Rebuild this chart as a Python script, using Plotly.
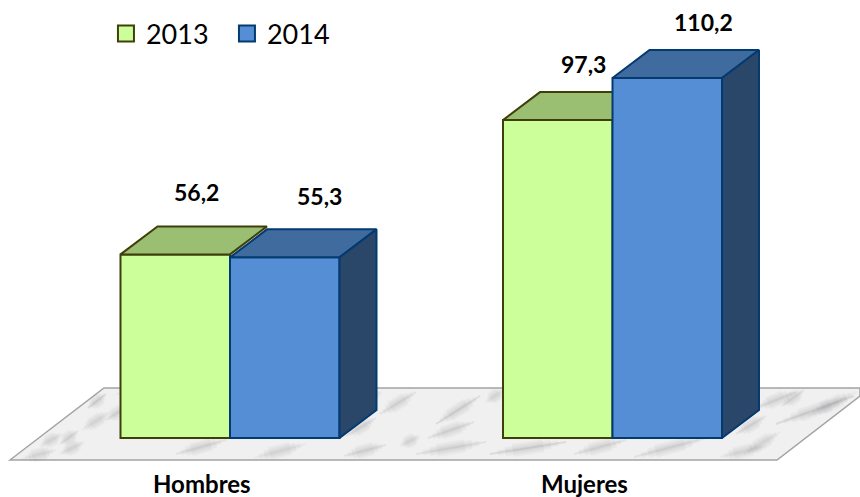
import plotly.graph_objects as go

categories = ["Hombres", "Mujeres"]
years = ["2013", "2014"]
values_2013 = [56.2, 97.3]
values_2014 = [55.3, 110.2]
labels_2013 = ["56,2", "97,3"]
labels_2014 = ["55,3", "110,2"]

W, H = 860, 497
FONT = "Lato"
GREEN, GREEN_TOP, GREEN_LINE = "#ccff99", "#9abf73", "#3f3f0a"
BLUE, BLUE_TOP, BLUE_SIDE, BLUE_LINE = "#558ed5", "#406b9f", "#2a4669", "#033a70"

# layout scale (pixels per axis unit)
PX_X, PX_Y = 382.5, 3.267
X0_PX, Y0_PX = 230.0, 438.0
BAR = 109.5 / PX_X
DX, DY = 37 / PX_X, 28 / PX_Y
xr = [-X0_PX / PX_X, (W - X0_PX) / PX_X]
yr = [-(H - Y0_PX) / PX_Y, Y0_PX / PX_Y]
xs = [0, 1]


def top_face(idx, vals, left):
    xo, yo = [], []
    for i in idx:
        x, v = xs[i] + left, vals[i]
        xo += [x, x + DX, x + BAR + DX, x + BAR, x, None]
        yo += [v, v + DY, v + DY, v, v, None]
    return xo, yo


def side_face(vals, left):
    xo, yo = [], []
    for i, v in enumerate(vals):
        x = xs[i] + left + BAR
        xo += [x, x + DX, x + DX, x, x, None]
        yo += [v, v + DY, DY, 0, v, None]
    return xo, yo


def poly(xy, fill, line, xa, ya):
    return go.Scatter(x=xy[0], y=xy[1], xaxis=xa, yaxis=ya, mode="lines", fill="toself",
                      fillcolor=fill, line=dict(color=line, width=2), hoverinfo="skip",
                      showlegend=False, connectgaps=False)


fig = go.Figure()
# layer 1 : 2013 fronts and the tops that sit behind a taller 2014 bar
fig.add_trace(go.Bar(x=xs, y=values_2013, width=BAR, offset=-BAR, marker=dict(color=GREEN, line=dict(color=GREEN_LINE, width=2)),
                     showlegend=False, hoverinfo="skip"))
behind = [i for i in range(2) if values_2013[i] <= values_2014[i]]
fig.add_trace(poly(top_face(behind, values_2013, -BAR), GREEN_TOP, GREEN_LINE, "x", "y"))
# layer 2 : 2014
fig.add_trace(go.Bar(x=xs, y=values_2014, width=BAR, offset=0, xaxis="x2", yaxis="y2",
                     marker=dict(color=BLUE, line=dict(color=BLUE_LINE, width=2)), showlegend=False, hoverinfo="skip"))
fig.add_trace(poly(top_face(range(2), values_2014, 0), BLUE_TOP, BLUE_LINE, "x2", "y2"))
fig.add_trace(poly(side_face(values_2014, 0), BLUE_SIDE, BLUE_LINE, "x2", "y2"))
# layer 3 : 2013 tops in front of a shorter 2014 bar
front = [i for i in range(2) if values_2013[i] > values_2014[i]]
fig.add_trace(poly(top_face(front, values_2013, -BAR), GREEN_TOP, GREEN_LINE, "x3", "y3"))

# legend entries
for name, col, ln in [(years[0], GREEN, GREEN_LINE), (years[1], BLUE, BLUE_LINE)]:
    fig.add_trace(go.Scatter(x=[None], y=[None], name=name, mode="markers",
                             marker=dict(symbol="square", size=16, color=col, line=dict(color=ln, width=2))))

ax = dict(range=xr, visible=False, fixedrange=True)
ay = dict(range=yr, visible=False, fixedrange=True)


def px(x, y):
    return x / W, 1 - y / H


# marble floor
floor = [(10, 460), (104, 388), (860, 388), (860, 396), (777, 460)]
pts = [px(*p) for p in floor]
path = "M " + " L ".join(f"{a:.5f},{b:.5f}" for a, b in pts) + " Z"
shapes = [dict(type="path", xref="paper", yref="paper", path=path, fillcolor="#f0f0f1",
               line=dict(color="#a3a3a3", width=1.5), layer="below")]
streaks = [
    (88, 408, 106, 394, 3), (60, 444, 78, 431, 2), (106, 420, 128, 406, 2), (176, 454, 226, 440, 2),
    (60, 454, 84, 442, 1), (346, 436, 376, 418, 2), (344, 456, 386, 445, 2), (380, 414, 416, 392, 2),
    (356, 403, 382, 392, 1), (436, 424, 480, 396, 3), (428, 438, 474, 422, 2), (416, 454, 486, 442, 2),
    (486, 402, 504, 390, 1), (490, 454, 566, 442, 3), (574, 454, 626, 440, 2), (634, 457, 706, 438, 2),
    (736, 434, 766, 416, 2), (756, 408, 796, 392, 2), (776, 424, 854, 396, 3), (782, 406, 804, 390, 2),
    (808, 416, 856, 392, 1), (744, 454, 780, 432, 1), (140, 430, 166, 408, 1), (22, 459, 56, 450, 1),
    (254, 458, 306, 444, 1), (116, 394, 156, 389, 1), (720, 457, 766, 446, 1), (40, 446, 62, 434, 1),
    (82, 430, 110, 412, 1), (400, 446, 420, 436, 1),
]
for x1, y1, x2, y2, k in streaks:
    for frac, width, op in [(1.0, 2, 0.05 * k), (0.8, 5, 0.06), (0.6, 9, 0.06), (0.4, 13, 0.05)]:
        mx, my = (x1 + x2) / 2, (y1 + y2) / 2
        a = px(mx + (x1 - mx) * frac, my + (y1 - my) * frac)
        b = px(mx + (x2 - mx) * frac, my + (y2 - my) * frac)
        shapes.append(dict(type="line", xref="paper", yref="paper", x0=a[0], y0=a[1], x1=b[0], y1=b[1],
                           line=dict(color="#6f6f72", width=width), opacity=op, layer="below"))

# text
annotations = []
shifts_2013 = [(21, 62), (26, 56)]
shifts_2014 = [(35, 61), (36, 56)]
for i in range(2):
    for vals, labs, sh, cx in [(values_2013, labels_2013, shifts_2013, -BAR / 2), (values_2014, labels_2014, shifts_2014, BAR / 2)]:
        annotations.append(dict(x=xs[i] + cx, y=vals[i], xref="x", yref="y", text=f"<b>{labs[i]}</b>", showarrow=False,
                                xshift=sh[i][0], yshift=sh[i][1], font=dict(family=FONT, size=23, color="#000000")))
    annotations.append(dict(x=xs[i], y=0, xref="x", yref="y", text=f"<b>{categories[i]}</b>", showarrow=False,
                            xshift=-28, yshift=-45, font=dict(family=FONT, size=24, color="#000000")))

fig.update_layout(
    width=W, height=H, margin=dict(l=0, r=0, t=0, b=0), paper_bgcolor="white", plot_bgcolor="rgba(0,0,0,0)",
    xaxis=ax, yaxis=ay,
    xaxis2=dict(ax, overlaying="x"), yaxis2=dict(ay, overlaying="y"),
    xaxis3=dict(ax, overlaying="x"), yaxis3=dict(ay, overlaying="y"),
    shapes=shapes, annotations=annotations, barmode="overlay",
    legend=dict(orientation="h", x=0.1232, y=0.981, xanchor="left", yanchor="top", bgcolor="rgba(0,0,0,0)",
                font=dict(family=FONT, size=27, color="#000000"), itemwidth=30, traceorder="normal",
                entrywidth=76, entrywidthmode="pixels"),
)
fig.write_html("out.html", config=dict(displayModeBar=False),
               post_script="document.body.style.margin='0';document.body.style.overflow='hidden';")
